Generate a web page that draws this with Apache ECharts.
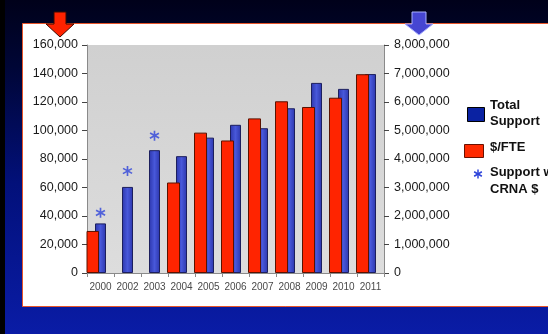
<!DOCTYPE html>
<html>
<head>
<meta charset="utf-8">
<script src="https://cdn.jsdelivr.net/npm/echarts@6/dist/echarts.min.js"></script>
<style>
  html, body { margin: 0; padding: 0; background: #000428; }
  #chart { width: 548px; height: 334px; }
</style>
</head>
<body>
<div id="chart"></div>
<script>
// Fiscal years on the category axis
const years = ['2000', '2002', '2003', '2004', '2005', '2006', '2007', '2008', '2009', '2010', '2011'];

// $/FTE (left axis)
const perFte = [29500, '-', '-', 63500, 98500, 93000, 108500, 120500, 116500, 123000, 139500];

// Total Support (right axis)
const totalSupport = [1740000, 3020000, 4310000, 4100000, 4750000, 5200000, 5080000, 5780000, 6670000, 6460000, 6980000];

// Support w/ CRNA $ (right axis, early years only)
const crnaSupport = [2110000, 3580000, 4820000, '-', '-', '-', '-', '-', '-', '-', '-'];

// Axis tick settings
const leftMax = 160000, leftStep = 20000;
const rightMax = 8000000, rightStep = 1000000;

const seriesNames = ['Total Support', '$/FTE', 'Support w/ CRNA $'];

// six-armed asterisk marker
const asteriskPath = 'path://M42 0L58 0L58 100L42 100Z' +
  'M11.5 16.6L98.1 66.6L90.1 80.4L3.5 30.4Z' +
  'M96.5 33.4L9.9 83.4L1.9 69.6L88.5 19.6Z';

const fmt = v => Number(v).toLocaleString('en-US');
const labelFont = '"Liberation Sans", Arial, sans-serif';
const legendFont = 'bold 13px "Liberation Sans", Arial, sans-serif';
const asteriskBlue = '#2e44da';

// small asterisk made of three strokes, for the legend key
function asteriskKey(cx, cy, r, color) {
  const arms = [90, 30, 150];
  return arms.map(a => {
    const dx = r * Math.cos(a * Math.PI / 180);
    const dy = r * Math.sin(a * Math.PI / 180);
    return { type: 'line', z: 10,
      shape: { x1: cx - dx, y1: cy - dy, x2: cx + dx, y2: cy + dy },
      style: { stroke: color, lineWidth: 1.5 } };
  });
}

const chart = echarts.init(document.getElementById('chart'), null, { renderer: 'canvas' });

const option = {
  animation: false,
  backgroundColor: {
    type: 'linear', x: 0, y: 0, x2: 0, y2: 1,
    colorStops: [
      { offset: 0, color: '#00011a' },
      { offset: 0.2, color: '#000636' },
      { offset: 0.55, color: '#02107a' },
      { offset: 1, color: '#0a1ca6' }
    ]
  },
  graphic: [
    // dark left strip
    { type: 'rect', left: 0, top: 0, shape: { width: 5, height: 334 }, style: { fill: '#000000' }, z: -10 },
    // white chart panel
    { type: 'rect', shape: { x: 22.5, y: 23.5, width: 560, height: 283 },
      style: { fill: '#ffffff', stroke: '#e6542a', lineWidth: 1 }, z: -9 },
    // red arrow pointing at the left axis
    { type: 'polygon', z: 10,
      shape: { points: [[54, 12], [66, 12], [66, 24], [74, 24], [60, 37], [46, 24], [54, 24]] },
      style: { fill: '#ff2200', stroke: '#3a0800', lineWidth: 1 } },
    // blue arrow pointing at the right axis
    { type: 'polygon', z: 10,
      shape: { points: [[412, 12], [426, 12], [426, 24], [433, 24], [419, 35], [405, 24], [412, 24]] },
      style: { fill: '#4646d2', stroke: '#a8b0ff', lineWidth: 1 } },
    // legend
    { type: 'rect', z: 10, shape: { x: 467.5, y: 107.5, width: 17, height: 14 },
      style: { fill: '#0a22a2', stroke: '#000000', lineWidth: 1 } },
    { type: 'text', z: 10, x: 490, y: 97,
      style: { text: 'Total\nSupport', fill: '#111', font: legendFont,
        lineHeight: 16.5, verticalAlign: 'top' } },
    { type: 'rect', z: 10, shape: { x: 464.5, y: 144.5, width: 19, height: 13 },
      style: { fill: '#ff2a00', stroke: '#6a1000', lineWidth: 1 } },
    { type: 'text', z: 10, x: 490, y: 139,
      style: { text: seriesNames[1], fill: '#111', font: legendFont,
        lineHeight: 16.5, verticalAlign: 'top' } },
    ...asteriskKey(478, 174, 4.5, asteriskBlue),
    { type: 'text', z: 10, x: 490, y: 163.5,
      style: { text: 'Support w/\nCRNA $', fill: '#111', font: legendFont,
        lineHeight: 17, verticalAlign: 'top' } }
  ],
  grid: {
    left: 87, right: 164, top: 45, bottom: 61,
    show: true,
    borderWidth: 0,
    backgroundColor: {
      type: 'linear', x: 0, y: 0, x2: 0, y2: 1,
      colorStops: [
        { offset: 0, color: '#d0d0d0' },
        { offset: 1, color: '#dddddd' }
      ]
    }
  },
  xAxis: [
    {
      type: 'category',
      data: years,
      axisLine: { show: true, lineStyle: { color: '#8a8a8a', width: 1 } },
      axisTick: { show: true, length: 4, lineStyle: { color: '#8a8a8a' } },
      axisLabel: { color: '#4a4a4a', fontSize: 10, margin: 9, interval: 0, fontFamily: labelFont },
      splitLine: { show: false }
    },
    {
      type: 'category',
      data: years,
      show: false
    }
  ],
  yAxis: [
    {
      type: 'value',
      min: 0, max: leftMax, interval: leftStep,
      axisLine: { show: true, lineStyle: { color: '#8a8a8a', width: 1 } },
      axisTick: { show: true, length: 5, lineStyle: { color: '#444' } },
      axisLabel: { color: '#1a1a1a', fontSize: 12.5, margin: 9, formatter: fmt, fontFamily: labelFont },
      splitLine: { show: false }
    },
    {
      type: 'value',
      position: 'right',
      min: 0, max: rightMax, interval: rightStep,
      axisLine: { show: true, lineStyle: { color: '#8a8a8a', width: 1 } },
      axisTick: { show: true, length: 5, lineStyle: { color: '#444' } },
      axisLabel: { color: '#1a1a1a', fontSize: 12.5, margin: 10, formatter: fmt, fontFamily: labelFont },
      splitLine: { show: false }
    }
  ],
  series: [
    {
      name: seriesNames[0],
      type: 'bar',
      xAxisIndex: 1, yAxisIndex: 1,
      barWidth: 11,
      z: 2,
      data: totalSupport,
      itemStyle: {
        color: {
          type: 'linear', x: 0, y: 0, x2: 1, y2: 0,
          colorStops: [
            { offset: 0, color: '#2c36ac' },
            { offset: 0.5, color: '#4858da' },
            { offset: 1, color: '#2c36ac' }
          ]
        },
        borderColor: '#1c1f5e', borderWidth: 1
      }
    },
    {
      name: seriesNames[1],
      type: 'bar',
      xAxisIndex: 0, yAxisIndex: 0,
      barWidth: 13,
      barGap: '0%',
      z: 3,
      data: perFte,
      itemStyle: { color: '#ff2400', borderColor: '#5a1200', borderWidth: 1 }
    },
    {
      // empty slot that sits beside the $/FTE bars in each year
      name: 'spacer',
      type: 'bar',
      xAxisIndex: 0, yAxisIndex: 0,
      barWidth: 16,
      barGap: '0%',
      data: [],
      silent: true
    },
    {
      name: seriesNames[2],
      type: 'scatter',
      xAxisIndex: 1, yAxisIndex: 1,
      symbol: asteriskPath,
      symbolSize: [10, 10],
      z: 4,
      data: crnaSupport,
      itemStyle: { color: asteriskBlue }
    }
  ]
};

chart.setOption(option);
</script>
</body>
</html>
